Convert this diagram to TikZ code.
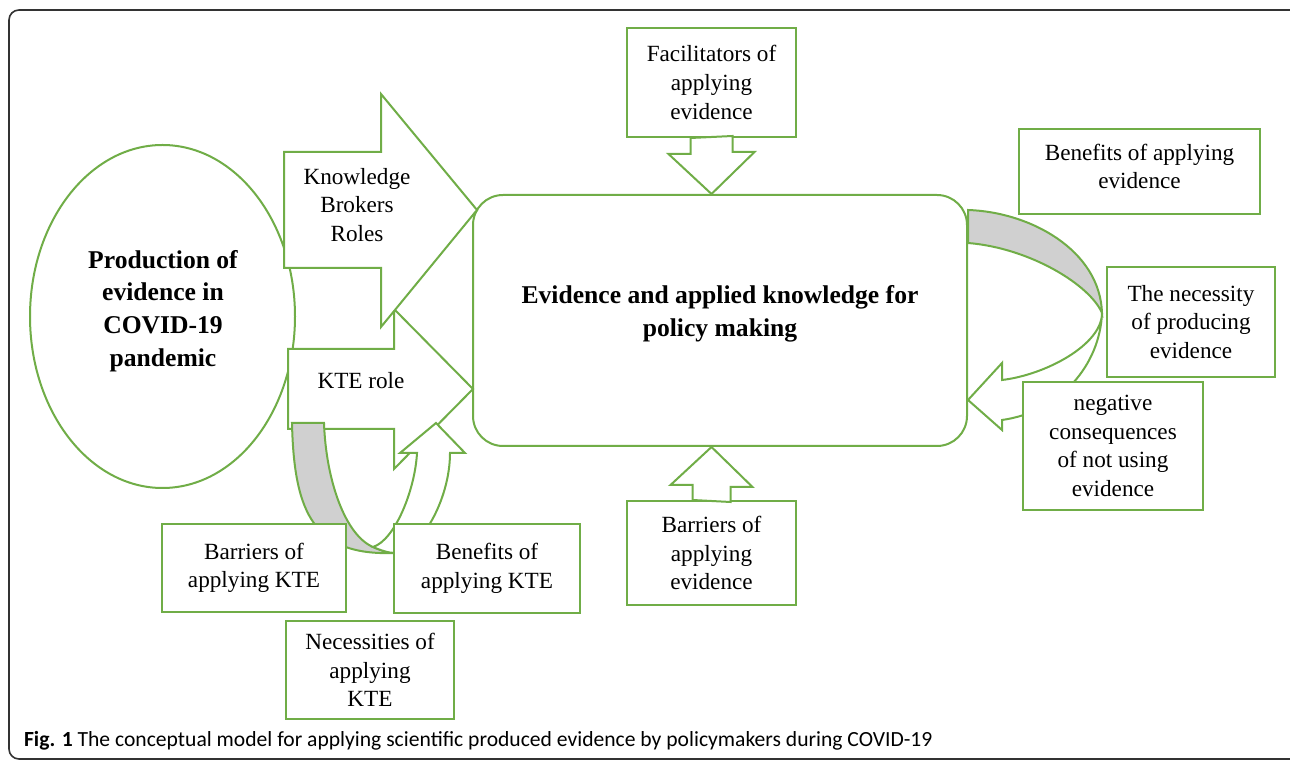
\documentclass[tikz,border=0pt]{standalone}
\usepackage{fontspec}
\setmainfont{Liberation Serif}
\newfontfamily\capfont{Carlito}
\usetikzlibrary{shapes.geometric}
\definecolor{kgreen}{RGB}{112,173,71}
\definecolor{bandgray}{RGB}{208,208,208}
\tikzset{
  gline/.style={draw=kgreen, line width=1pt, line join=miter},
  gbox/.style={gline, fill=white, rectangle, align=center, inner sep=0pt, font=\fontsize{11.6}{14.3}\selectfont},
  btext/.style={align=center, font=\bfseries\fontsize{12.8}{16.4}\selectfont},
  ntext/.style={align=center, font=\fontsize{11.6}{14.3}\selectfont},
}
\begin{document}
\begin{tikzpicture}[x=0.5pt, y=-0.5pt]
	%%%%% START %%%%%
	\useasboundingbox (0,0) rectangle (1290,763);
	\draw[black!80, line width=0.8pt, rounded corners=5pt] (9,10) rectangle (1300,759);
	
	% production of evidence
	\node[ellipse, gline, fill=white, minimum width=132.5pt, minimum height=171.5pt, inner sep=0pt] (prod) at (162.5,316.5) {};
	\node[btext] (prodtxt) at (163,311) {Production of\\evidence in\\COVID-19\\pandemic};
	
	% policy box
	\node[gline, fill=white, rounded corners=15pt, minimum width=247pt, minimum height=125.5pt] (policy) at (720,320.5) {};
	\node[btext] (policytxt) at (720,314) {Evidence and applied knowledge for\\policy making};
	
	% KTE role and knowledge brokers
	\draw[gline, fill=white] (288,349) -- (394,349) -- (394,309) -- (473,389) -- (394,469) -- (394,429) -- (288,429) -- cycle;
	\draw[gline, fill=white] (284,152) -- (381,152) -- (381,94) -- (477,210) -- (381,327) -- (381,268) -- (284,268) -- cycle;
	\node[ntext] (kbr) at (357,205) {Knowledge\\Brokers\\Roles};
	\node[ntext] (kte) at (361,381) {KTE role};
	
	% curved arrow under KTE role
	\draw[gline, fill=bandgray] (292,423) -- (324,423) .. controls (326,480) and (345,535) .. (373,547)
		.. controls (380,550) and (388,553) .. (395,553) .. controls (315,556) and (294,515) .. (292,423) -- cycle;
	\draw[gline, fill=white] (373,547) .. controls (395,540) and (415,490) .. (417,453) -- (400,453) -- (436,423)
		-- (465,453) -- (450,453) .. controls (450,500) and (420,552) .. (395,553)
		.. controls (388,553) and (380,550) .. (373,547) -- cycle;
	
	% curved arrow right of policy box
	\draw[gline, fill=bandgray] (968,210) .. controls (1030,212) and (1100,250) .. (1102,313)
		.. controls (1090,285) and (1030,248) .. (968,243) -- cycle;
	\draw[gline, fill=white] (1102,313) .. controls (1102,345) and (1045,375) .. (1002,380) -- (1002,363) -- (968,400)
		-- (1002,430) -- (1002,420) .. controls (1060,412) and (1100,365) .. (1102,313) -- cycle;
	
	% boxes
	\node[gbox, minimum width=84.5pt, minimum height=54.5pt] (facil) at (711.5,82.5) {Facilitators of\\applying\\evidence};
	\node[gbox, minimum width=84.5pt, minimum height=52pt] (barev) at (711.5,553) {Barriers of\\applying\\evidence};
	\node[gbox, minimum width=120.5pt, minimum height=42.5pt, text depth=5pt] (benev) at (1139.5,171.5) {Benefits of applying\\evidence};
	\node[gbox, minimum width=84pt, minimum height=55pt] (necprod) at (1191,322) {The necessity\\of producing\\evidence};
	\node[gbox, minimum width=90pt, minimum height=64pt] (negcons) at (1113,446) {negative\\consequences\\of not using\\evidence};
	\node[gbox, minimum width=92pt, minimum height=44pt] (barkte) at (254,568) {Barriers of\\applying KTE};
	\node[gbox, minimum width=93pt, minimum height=44.5pt] (benkte) at (487,568.5) {Benefits of\\applying KTE};
	\node[gbox, minimum width=84pt, minimum height=49pt] (neckte) at (370,670) {Necessities of\\applying\\KTE};
	
	% block arrows into policy box
	\draw[gline, fill=white] (facil.south) ++(-21,0) -- ++(0,16) -- ++(-22,0) -- (facil.south |- policy.north)
		-- ++(43,-42) -- ++(-22,0) -- ++(0,-16) -- cycle;
	\draw[gline, fill=white] (barev.north) ++(-19,0) -- ++(0,-15) -- ++(-22,0) -- (barev.north |- policy.south)
		-- ++(41,40) -- ++(-22,0) -- ++(0,15) -- cycle;
	
	% caption
	\node[anchor=base west, font=\capfont\fontsize{10.8}{13}\selectfont] (cap) at (17,747)
		{\textbf{Fig. 1} The conceptual model for applying scientific produced evidence by policymakers during COVID-19};
	%%%%% END %%%%%
\end{tikzpicture}
\end{document}
